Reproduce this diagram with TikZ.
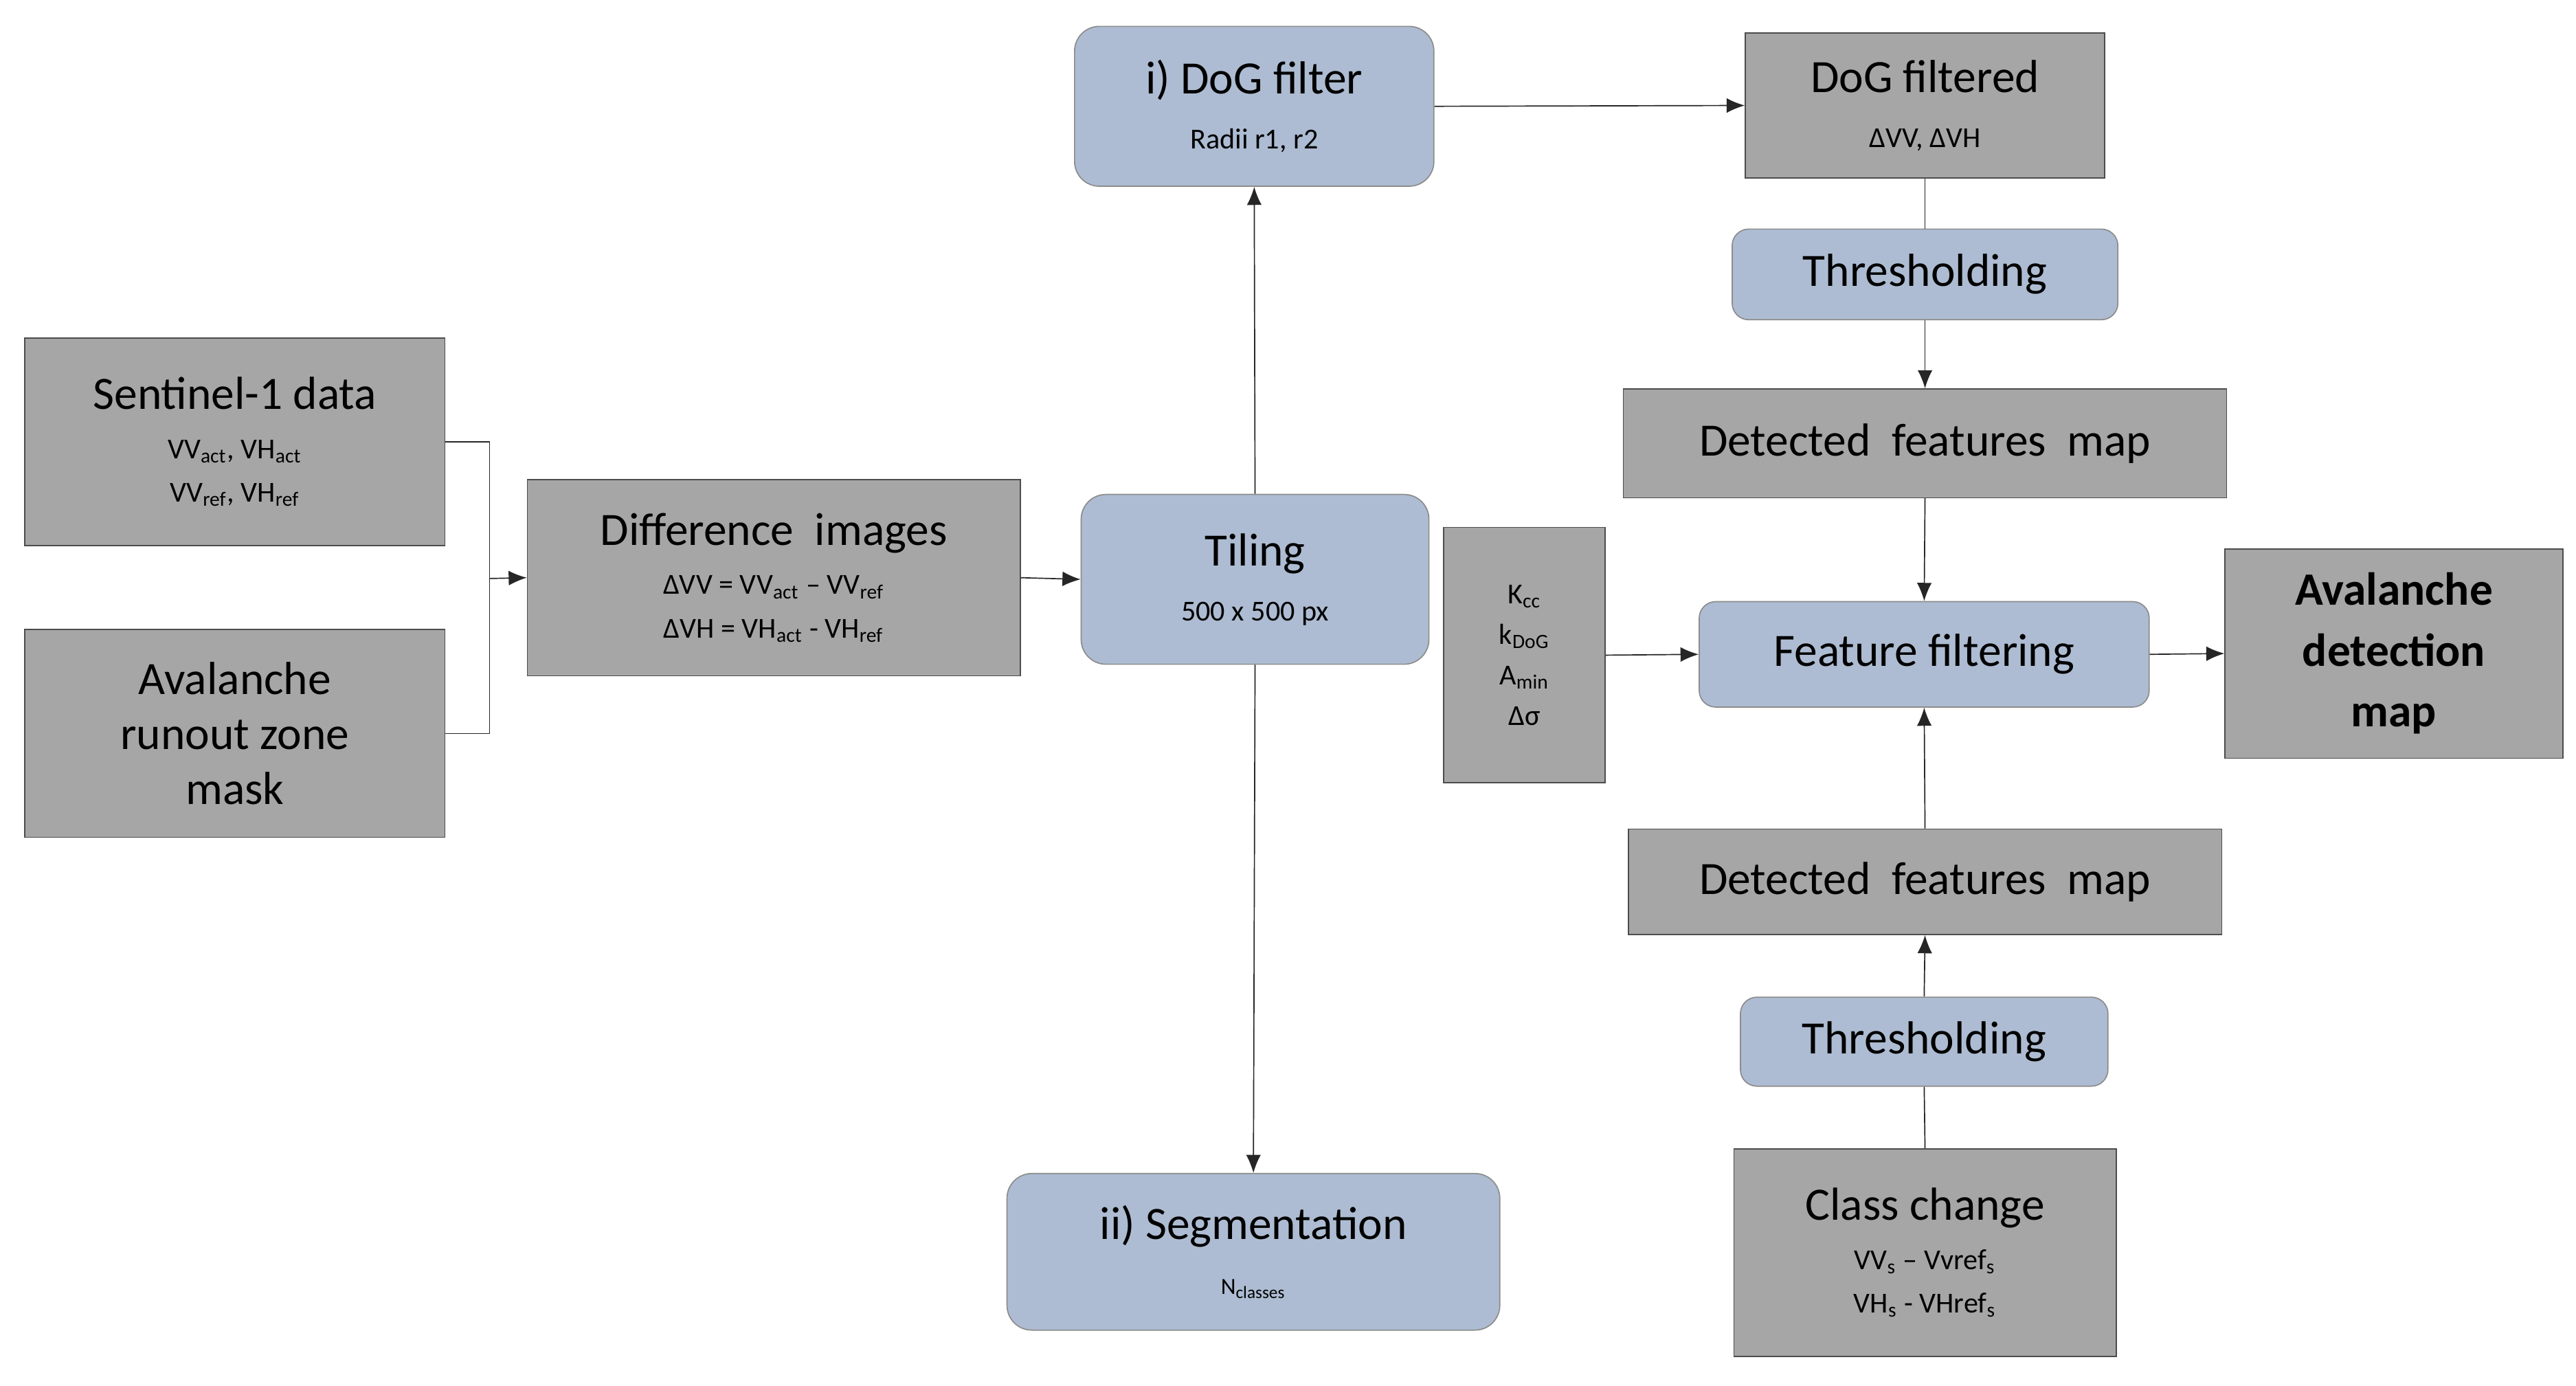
\documentclass[tikz,border=0pt]{standalone}
\usepackage{fontspec}
\setmainfont{Carlito}
\usetikzlibrary{arrows.meta,calc}
\definecolor{boxgray}{RGB}{166,166,166}
\definecolor{boxblue}{RGB}{173,188,210}
\begin{document}
\begin{tikzpicture}[
    gbox/.style={draw=black!70,fill=boxgray,align=center,inner sep=1pt,font=\fontsize{16}{19}\selectfont},
    bbox/.style={draw=black!45,fill=boxblue,rounded corners=3mm,align=center,inner sep=1pt,font=\fontsize{16}{19}\selectfont},
    sm/.style={font=\fontsize{10}{12}\selectfont},
    arr/.style={-{Latex[length=2.2mm,width=1.8mm]},black!85,thin},
    ln/.style={black!85,thin}]
  \useasboundingbox (0,0) rectangle (31.26,-16.81);
  \node[gbox,minimum width=5.1cm,minimum height=2.52cm] (sen) at (2.85,-5.36)
    {Sentinel-1 data\\[-2pt]{\fontsize{10}{12}\selectfont VV\textsubscript{act}, VH\textsubscript{act}}\\[-4pt]{\fontsize{10}{12}\selectfont VV\textsubscript{ref}, VH\textsubscript{ref}}};
  \node[gbox,minimum width=5.1cm,minimum height=2.52cm] (mask) at (2.85,-8.9)
    {Avalanche\\runout zone\\mask};
  \node[gbox,minimum width=5.98cm,minimum height=2.38cm] (diff) at (9.39,-7.01)
    {Difference\ \ images\\[-2pt]{\fontsize{10}{12}\selectfont ΔVV = VV\textsubscript{act} – VV\textsubscript{ref}}\\[-4pt]{\fontsize{10}{12}\selectfont ΔVH = VH\textsubscript{act} - VH\textsubscript{ref}}};
  \node[bbox,minimum width=4.22cm,minimum height=2.06cm] (tile) at (15.23,-7.03)
    {Tiling\\{\fontsize{10}{12}\selectfont 500 x 500 px}};
  \node[bbox,minimum width=4.36cm,minimum height=1.94cm] (dog) at (15.22,-1.29)
    {i) DoG filter\\{\fontsize{10}{12}\selectfont Radii r1, r2}};
  \node[bbox,minimum width=5.98cm,minimum height=1.9cm] (seg) at (15.21,-15.19)
    {ii) Segmentation\\{\fontsize{8}{10}\selectfont N\textsubscript{classes}}};
  \node[gbox,minimum width=4.36cm,minimum height=1.76cm] (dogf) at (23.36,-1.28)
    {DoG filtered\\{\fontsize{10}{12}\selectfont ΔVV, ΔVH}};
  \node[bbox,rounded corners=2mm,minimum width=4.68cm,minimum height=1.1cm] (th1) at (23.36,-3.33) {Thresholding};
  \node[gbox,minimum width=7.32cm,minimum height=1.32cm] (det1) at (23.36,-5.38) {Detected\ \ features\ \ map};
  \node[gbox,minimum width=1.96cm,minimum height=3.1cm,font=\fontsize{10}{14}\selectfont] (par) at (18.5,-7.95)
    {K\textsubscript{cc}\\k\textsubscript{DoG}\\A\textsubscript{min}\\Δσ};
  \node[bbox,rounded corners=2mm,minimum width=5.46cm,minimum height=1.28cm] (feat) at (23.35,-7.94) {Feature filtering};
  \node[gbox,minimum width=4.1cm,minimum height=2.54cm,font=\fontsize{16}{21}\selectfont\bfseries] (aval) at (29.05,-7.93)
    {Avalanche\\detection\\map};
  \node[gbox,minimum width=7.2cm,minimum height=1.28cm] (det2) at (23.36,-10.7) {Detected\ \ features\ \ map};
  \node[bbox,rounded corners=2mm,minimum width=4.46cm,minimum height=1.08cm] (th2) at (23.35,-12.64) {Thresholding};
  \node[gbox,minimum width=4.64cm,minimum height=2.52cm] (cls) at (23.36,-15.2)
    {Class change\\[-2pt]{\fontsize{10}{12}\selectfont VV\textsubscript{s} – Vvref\textsubscript{s}}\\[-4pt]{\fontsize{10}{12}\selectfont VH\textsubscript{s} - VHref\textsubscript{s}}};
  % connectors
  \coordinate (j) at (5.94,-7.02);
  \draw[ln] (sen.east) -- (sen.east -| j) -- (mask.east -| j) -- (mask.east);
  \draw[arr] (j) -- (diff.west);
  \draw[arr] (diff.east) -- (tile.west);
  \draw[arr] (tile.north) -- (dog.south);
  \draw[arr] (tile.south) -- (seg.north);
  \draw[arr] (dog.east) -- (dogf.west);
  \draw[ln] (dogf.south) -- (th1.north);
  \draw[arr] (th1.south) -- (det1.north);
  \draw[arr] (det1.south) -- (feat.north);
  \draw[arr] (par.east) -- (feat.west);
  \draw[arr] (feat.east) -- (aval.west);
  \draw[arr] (det2.north) -- (feat.south);
  \draw[arr] (th2.north) -- (det2.south);
  \draw[ln] (cls.north) -- (th2.south);
\end{tikzpicture}
\end{document}
